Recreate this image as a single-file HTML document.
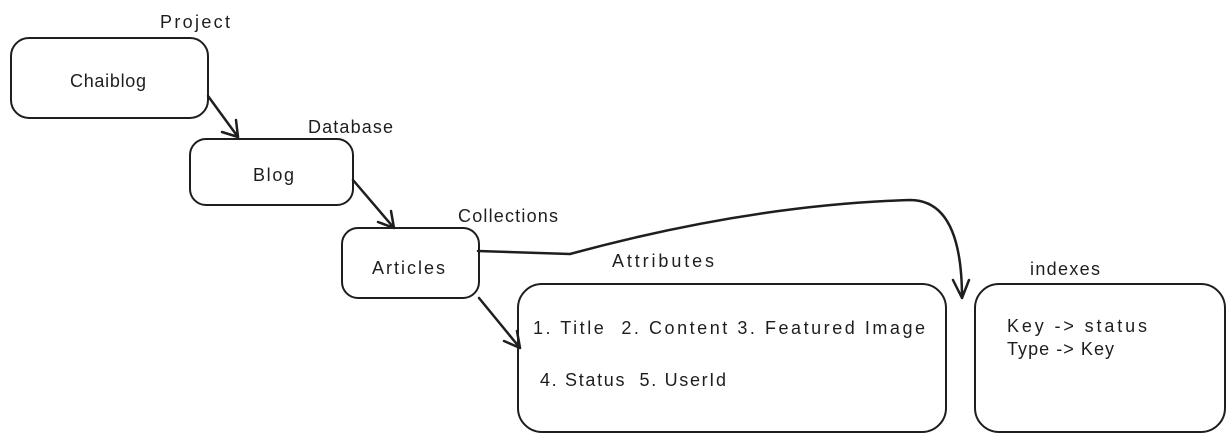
<!DOCTYPE html>
<html><head><style>
body{margin:0;background:#fff;width:1231px;height:441px;overflow:hidden}
svg text{font-family:"Comic Sans MS","Liberation Sans",sans-serif;font-size:18px;fill:#1e1e1e;white-space:pre}
</style></head><body>
<svg width="1231" height="441" viewBox="0 0 1231 441" fill="none" stroke="#1e1e1e" stroke-width="2" stroke-linecap="round" stroke-linejoin="round">
<rect x="11" y="38" width="197" height="80" rx="18"/>
<rect x="190" y="139" width="163" height="66" rx="16"/>
<rect x="342" y="228" width="137" height="70" rx="16"/>
<rect x="518" y="284" width="428" height="148" rx="24"/>
<rect x="975" y="284" width="250" height="148" rx="24"/>
<g stroke-width="2.5">
<path d="M208 96 L238 137 M222 132 L238 137 L236 120"/>
<path d="M353 180 L394 228 M378 222 L394 228 L391 211"/>
<path d="M479 298 L520 348 M504 341 L520 348 L517 331"/>
<path d="M478 251 L570 254 Q750 205 910 200 Q962 200 962 298 M953 280 L962 298 L969 280"/>
</g>
<g stroke="none">
<text x="160" y="28" textLength="70">Project</text>
<text x="70" y="87" textLength="76">Chaiblog</text>
<text x="308" y="133" textLength="85">Database</text>
<text x="253" y="181" textLength="41">Blog</text>
<text x="458" y="222" textLength="100">Collections</text>
<text x="372" y="274" textLength="73">Articles</text>
<text x="612" y="267" textLength="102">Attributes</text>
<text x="1030" y="275" textLength="70">indexes</text>
<text x="533" y="334" textLength="392">1. Title  2. Content 3. Featured Image</text>
<text x="540" y="386" textLength="186">4. Status  5. UserId</text>
<text x="1007" y="332" textLength="140">Key -&gt; status</text>
<text x="1007" y="355" textLength="107">Type -&gt; Key</text>
</g>
</svg>
</body></html>
